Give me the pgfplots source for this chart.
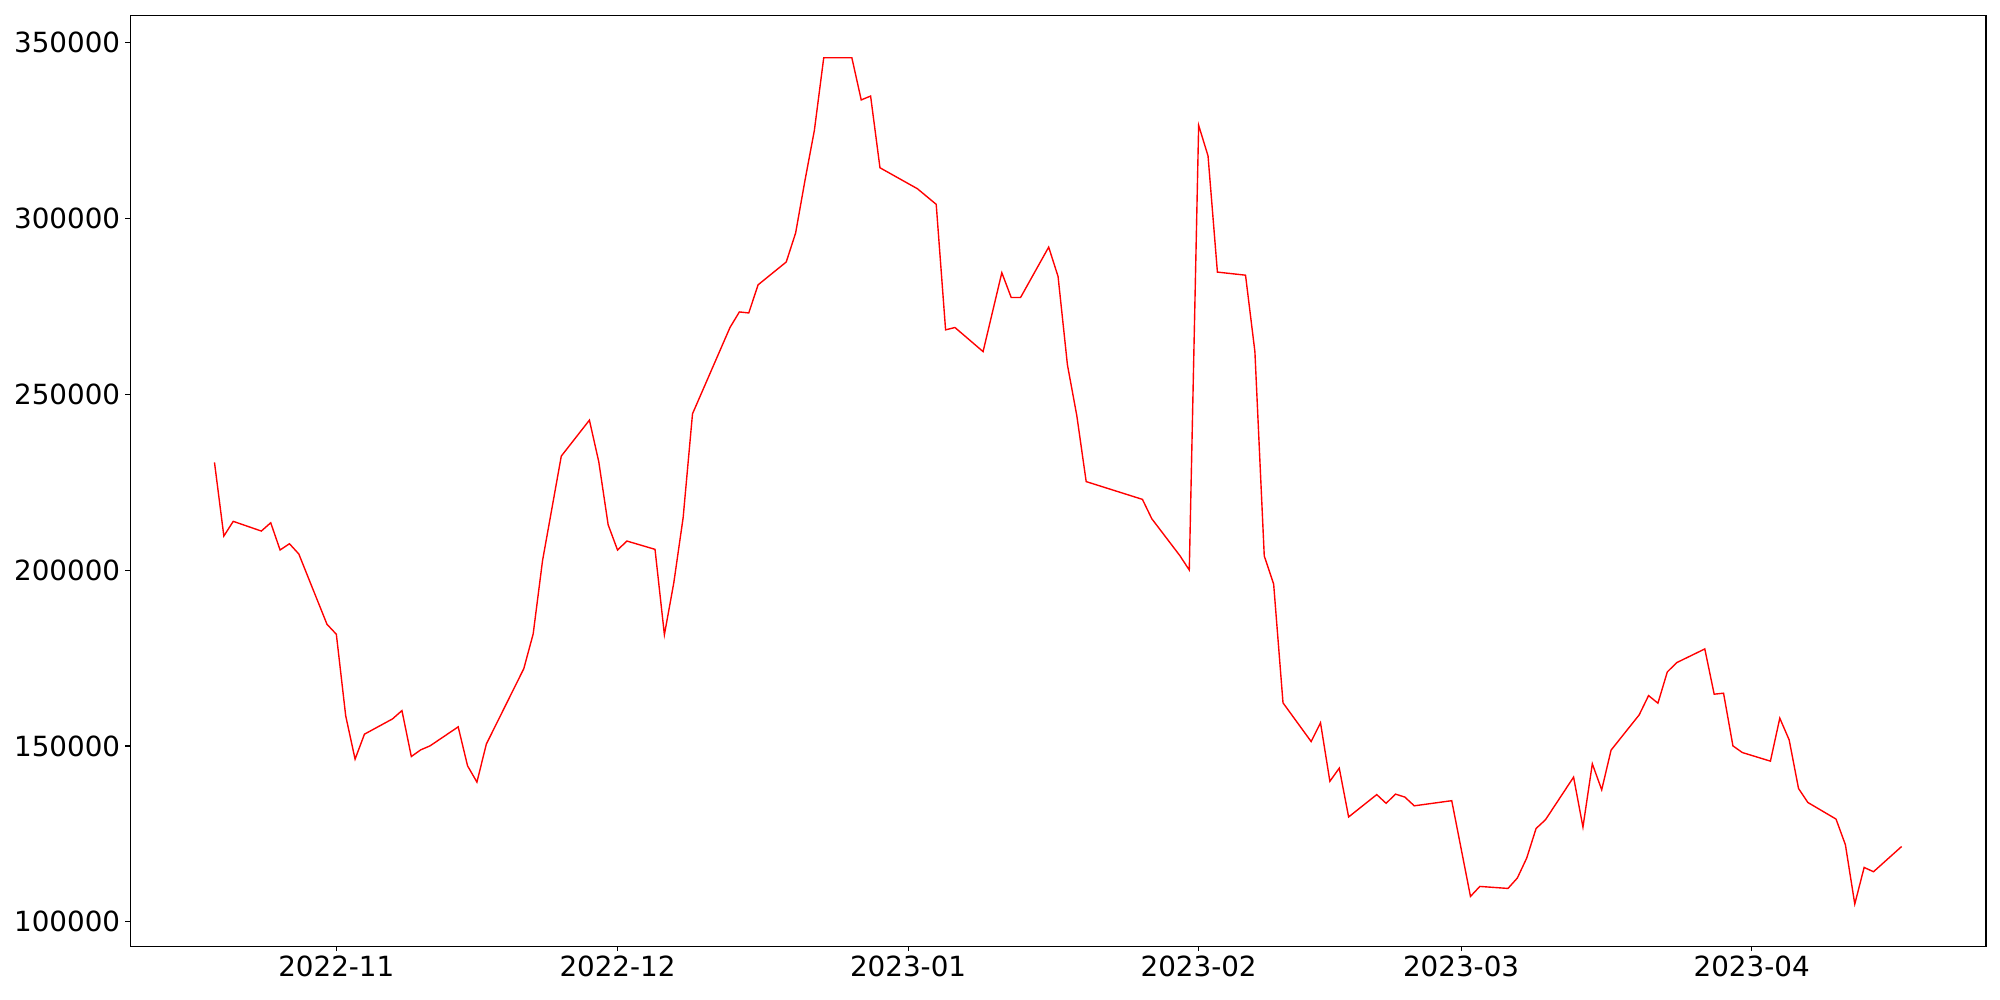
\documentclass[border=0pt]{standalone}
\usepackage{fontspec}
\setmainfont{DejaVu Sans}
\usepackage{pgfplots}
\pgfplotsset{compat=1.18}
\pgfplotstableread{
d v
-13 230640
-12 209700
-11 213880
-8 211120
-7 213480
-6 205730
-5 207510
-4 204590
-1 184620
0 181780
1 158570
2 146270
3 153370
6 157720
7 160080
8 147010
9 148910
10 150050
13 155450
14 144370
15 139740
16 150530
20 172000
21 181860
22 202720
24 232430
27 242650
28 230810
29 212900
30 205730
31 208280
34 205920
35 181670
36 196350
37 214930
38 244470
42 269010
43 273420
44 273130
45 281140
48 287620
49 295860
50 310830
51 325030
52 345680
55 345680
56 333700
57 334800
58 314410
62 308440
64 304010
65 268330
66 268990
69 262140
71 284580
72 277530
73 277530
76 291850
77 283500
78 258360
79 243930
80 225180
86 220130
87 214620
90 204110
91 200040
92 326470
93 317790
94 284750
97 283870
98 262140
99 204020
100 196070
101 162270
104 151270
105 156610
106 139970
107 143710
108 129830
111 136190
112 133710
113 136330
114 135480
115 133000
119 134460
121 107240
122 110080
125 109510
126 112470
127 118150
128 126560
129 129030
132 141160
133 126960
134 144940
135 137550
136 148830
139 158860
140 164340
141 162180
142 171070
143 173710
146 177600
147 164740
148 165020
149 150050
150 148150
153 145700
154 157920
155 151750
156 137920
157 133940
160 129230
161 121930
162 105080
163 115480
164 114260
167 121440
}\datatable
\begin{document}
\fontsize{20}{24}\selectfont
\begin{tikzpicture}
\begin{axis}[
  scale only axis, width=1336.3pt, height=670.4pt,
  xmin=-22, xmax=176, ymin=93050, ymax=357770,
  xtick={0,30,61,92,120,151},
  xticklabels={2022-11,2022-12,2023-01,2023-02,2023-03,2023-04},
  ytick={100000,150000,200000,250000,300000,350000},
  scaled y ticks=false,
  yticklabel style={/pgf/number format/fixed, /pgf/number format/1000 sep={}, inner sep=3.5pt},
  xticklabel style={inner sep=3.5pt},
  /pgf/number format/assume math mode=true,
  tick align=outside, xtick pos=bottom, ytick pos=left,
  major tick length=3.5pt,
  every tick/.style={black, line width=0.8pt},
  axis line style={line width=0.8pt},
  ticklabel style={font=\fontsize{20}{24}\selectfont},
]
\addplot[red, line width=1pt, mark=none] table[x=d, y=v] {\datatable};
\end{axis}
\pgfresetboundingbox
\path (current axis.south west) ++(-93.7pt,-38.6pt) coordinate (bl);
\path (current axis.north east) ++(10.1pt,11pt) coordinate (tr);
\useasboundingbox (bl) rectangle (tr);
\end{tikzpicture}
\end{document}
